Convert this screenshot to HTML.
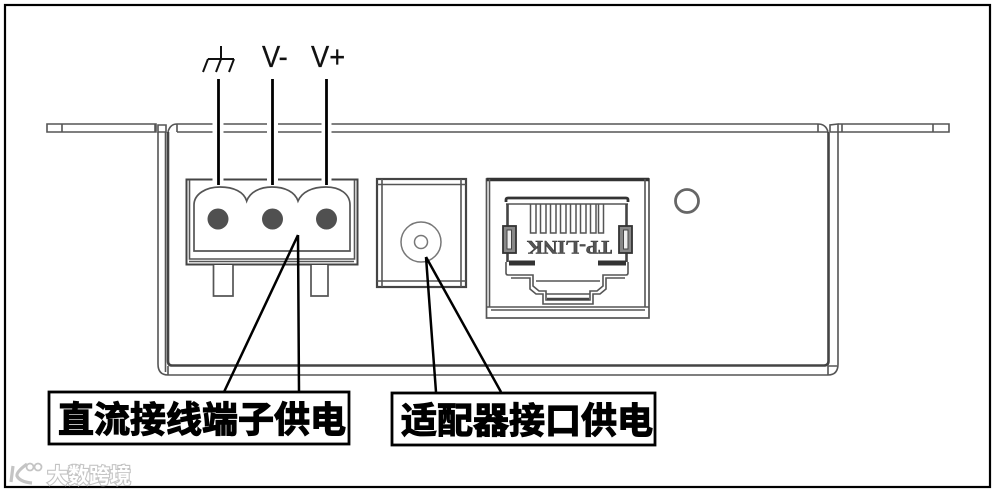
<!DOCTYPE html>
<html lang="zh">
<head>
<meta charset="utf-8">
<title>供电接口示意图</title>
<style>
html,body{margin:0;padding:0;background:#fff;width:998px;height:493px;overflow:hidden}
svg{display:block;filter:blur(.35px)}
.g{fill:none;stroke:#555;stroke-width:1.600}
.d{fill:none;stroke:#444;stroke-width:2.600}
.k{stroke:#000;fill:none}
.lab{font-family:"Liberation Sans","Noto Sans CJK SC",sans-serif;font-weight:700;font-size:36px;fill:#000;stroke:#000;stroke-width:1.200}
</style>
</head>
<body>
<svg width="998" height="493" viewBox="0 0 998 493" xmlns="http://www.w3.org/2000/svg">
<rect width="998" height="493" fill="#fff"/>
<rect x="5" y="5" width="985" height="482" fill="none" stroke="#000" stroke-width="2.200"/>

<!-- flanges -->
<path class="g" d="M47 124H156V132H47ZM62 124V132M155 124V132"/>
<path class="g" d="M158 132V125H166V132ZM168 132Q170 124 177 124V132M177 124H818M177 132H828"/>
<path class="g" d="M818 124V132M818 124Q826 124 828 132M830 132V125L838 124V132H830M838 124H949V132H838M933 124V132M842 124V132"/>

<!-- body -->
<path class="g" d="M158 132V364Q158 375 168 375H828Q838 375 838 364V132"/>
<path class="g" d="M165.500 132V372M168 366V375"/>
<path class="d" d="M168 132V361Q168 365.500 172 365.500H824Q828.500 365.500 828.500 361V132"/>
<path class="g" d="M828 366V375M828 366H837"/>

<!-- terminal block -->
<rect x="186.500" y="179.500" width="171" height="85" fill="#fff" stroke="#444" stroke-width="2"/>
<path class="g" d="M189.500 180V259H354.500V180M189 261.500H354"/>
<path fill="#fff" stroke="#555" stroke-width="1.700" d="M194 251V205C194 194 206 187 220 187C234 187 244 192 246.700 201C250 192 260 187 272 187C285 187 295 192 298 201C302 192 312 187 326 187C340 187 350 194 350 205V251Z"/>
<circle cx="218" cy="219" r="10.500" fill="#505050"/>
<circle cx="272.500" cy="219" r="10.500" fill="#505050"/>
<circle cx="326.500" cy="219" r="10.500" fill="#505050"/>
<path fill="#fff" stroke="#555" stroke-width="1.700" d="M213.500 265V296H233V265M311 265V296H328V265"/>

<!-- gaps in lines behind the leaders -->
<g fill="#fff">
<rect x="212.500" y="122" width="11" height="12"/>
<rect x="267" y="122" width="11" height="12"/>
<rect x="321.500" y="122" width="10" height="12"/>
<rect x="212.500" y="177" width="11" height="5"/>
<rect x="267" y="177" width="11" height="5"/>
<rect x="321.500" y="177" width="10" height="5"/>
</g>

<!-- leaders to top labels -->
<path class="k" stroke-width="2.800" d="M218.500 79V185M272.500 79V185M326.500 79V185"/>

<!-- ground symbol -->
<path fill="none" stroke="#111" stroke-width="2" d="M208 59H234M221 46V59M208 59L203 72M221 59L216 72M234 59L229 72"/>
<text transform="translate(262 67) scale(.88 1)" font-family="Liberation Sans,sans-serif" font-size="31" fill="#111" stroke="#111" stroke-width=".3">V-</text>
<text transform="translate(311 67) scale(.88 1)" font-family="Liberation Sans,sans-serif" font-size="31" fill="#111" stroke="#111" stroke-width=".3">V+</text>

<!-- barrel jack -->
<rect x="377" y="179" width="89" height="108" fill="#fff" stroke="#444" stroke-width="2.200"/>
<path class="g" d="M377 184.500H466M382 179V287M461 179V287M377 281H466"/>
<circle cx="421" cy="242" r="20" fill="#fff" stroke="#777" stroke-width="1.500"/>
<circle cx="421" cy="242" r="6.500" fill="#fff" stroke="#777" stroke-width="1.500"/>

<!-- RJ45 -->
<rect x="486.500" y="179" width="162.500" height="139" fill="#fff" stroke="#555" stroke-width="1.700"/>
<path d="M486.500 179.500H649" stroke="#333" stroke-width="3.500"/>
<path class="g" d="M489.500 179V307M645 179V307M487 307H649M491 310H645"/>
<path d="M506 202V200Q506 198 508 198H626Q628 198 628 200V202" fill="none" stroke="#333" stroke-width="2.800"/>
<path class="g" d="M506 204H628"/>
<path class="g" d="M506 262V273Q506 275 508 275H533V286L539 291H546V300H590V291H597L603 286V275H626Q628 275 628 273V262"/>
<path class="g" d="M511 278H530V289L536 294H543V304H593V294H600L606 289V278H625"/>
<path class="g" d="M536 281H600M546 294H590"/>
<path class="d" d="M507.500 204V226M626.500 204V226M507.500 253V262M626.500 253V262"/>
<path d="M509 263H535M598 263H626" stroke="#333" stroke-width="5"/>
<path d="M547 299H589" stroke="#444" stroke-width="2.400"/>
<path d="M530.500 204V233H536V204M540.500 204V233H546V204M550.500 204V233H556V204M560.500 204V233H566V204M570.500 204V233H576V204M580.500 204V233H586V204M590.500 204V233H596V204M598.500 204V233H603.500V204" fill="none" stroke="#555" stroke-width="1.500"/>
<rect x="503" y="226" width="13" height="27" fill="#888" stroke="#333" stroke-width="1.800"/>
<rect x="507" y="230" width="4.500" height="19" fill="#eee" stroke="#444"/>
<rect x="619" y="226" width="13" height="27" fill="#888" stroke="#333" stroke-width="1.800"/>
<rect x="623.500" y="230" width="4.500" height="19" fill="#eee" stroke="#444"/>
<text transform="rotate(180 569.500 247)" x="527" y="253" font-family="Liberation Serif,serif" font-weight="700" font-size="19" textLength="85" lengthAdjust="spacingAndGlyphs" fill="#555" stroke="#333" stroke-width=".5">TP-LINK</text>

<!-- LED -->
<circle cx="687" cy="201" r="11.500" fill="#fff" stroke="#666" stroke-width="2.800"/>

<!-- callout connectors -->
<path class="k" stroke-width="2.500" d="M298 235L224 392M298 235L299 392"/>
<path class="k" stroke-width="2.500" d="M426 257L436 392M426 257L501 392"/>

<!-- callout boxes -->
<rect x="49" y="392" width="300" height="52" fill="#fff" stroke="#000" stroke-width="2.800"/>
<text class="lab" x="58" y="432" textLength="288" lengthAdjust="spacing">直流接线端子供电</text>
<rect x="392" y="393" width="263" height="52" fill="#fff" stroke="#000" stroke-width="2.800"/>
<text class="lab" x="401" y="433" textLength="252" lengthAdjust="spacing">适配器接口供电</text>

<!-- watermark -->
<g fill="#fff" stroke="#c4c4c4" stroke-width="2">
<path fill="none" stroke-width="3.200" d="M13 466L11 482M27 464Q16 472 17 476Q20 482 32 483"/>
<circle cx="30" cy="467" r="3.500" fill="none" stroke-width="1.800"/>
<circle cx="38" cy="467" r="3.500" fill="none" stroke-width="1.800"/>
<text x="47" y="483" font-family="Liberation Sans,Noto Sans CJK SC,sans-serif" font-weight="700" font-size="21" paint-order="stroke" stroke-width="2.200">大数跨境</text>
</g>
</svg>
</body>
</html>
